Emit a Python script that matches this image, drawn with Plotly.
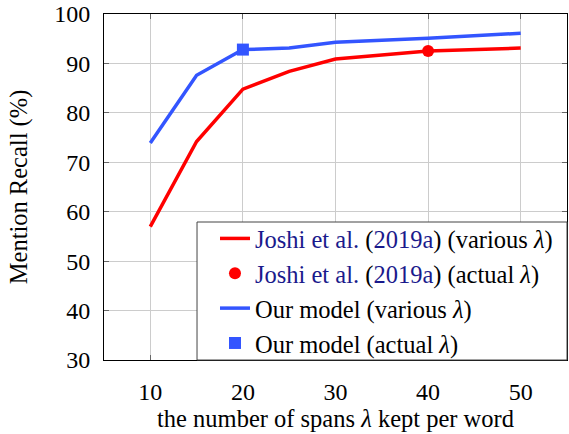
import plotly.graph_objects as go

x_vals = [10, 15, 20, 25, 30, 40, 50]
joshi_various = [57.0, 74.2, 84.8, 88.4, 90.9, 92.5, 93.1]
ours_various = [73.9, 87.6, 92.8, 93.1, 94.3, 95.1, 96.1]
joshi_actual_x = [40]
joshi_actual_y = [92.5]
ours_actual_x = [20]
ours_actual_y = [92.8]

cite = "<span style='color:#1a1a8c'>Joshi et al.</span> (<span style='color:#1a1a8c'>2019a</span>)"

fig = go.Figure()
fig.add_trace(go.Scatter(x=x_vals, y=joshi_various, mode="lines",
                         line=dict(color="#ff0000", width=3.5),
                         name=cite + " (various <i>λ</i>)"))
fig.add_trace(go.Scatter(x=joshi_actual_x, y=joshi_actual_y, mode="markers",
                         marker=dict(color="#ff0000", size=12, symbol="circle"),
                         name=cite + " (actual <i>λ</i>)"))
fig.add_trace(go.Scatter(x=x_vals, y=ours_various, mode="lines",
                         line=dict(color="#3355ff", width=3.5),
                         name="Our model (various <i>λ</i>)"))
fig.add_trace(go.Scatter(x=ours_actual_x, y=ours_actual_y, mode="markers",
                         marker=dict(color="#3355ff", size=12, symbol="square"),
                         name="Our model (actual <i>λ</i>)"))

font = "Liberation Serif"
fig.update_layout(
    width=569, height=434,
    margin=dict(l=104, r=2, t=14, b=74, autoexpand=False),
    plot_bgcolor="white", paper_bgcolor="white",
    font=dict(family=font, size=24, color="black"),
    legend=dict(x=0.2397, y=0.4162, xanchor="left", yanchor="top",
                borderwidth=0, bgcolor="rgba(0,0,0,0)",
                font=dict(size=24.5, family=font, color="black"),
                tracegroupgap=0),
    shapes=[dict(type="rect", xref="paper", yref="paper",
                 x0=0.2009, x1=1, y0=0, y1=0.3988,
                 line=dict(color="#444", width=1), fillcolor="white",
                 layer="above")],
)
fig.update_xaxes(range=[5, 55], tickvals=[10, 20, 30, 40, 50],
                 tickfont=dict(family=font, size=24, color="black"),
                 showgrid=True, gridcolor="#cccccc", gridwidth=1,
                 showline=True, linecolor="black", linewidth=1, mirror="ticks",
                 ticks="inside", ticklen=5, tickcolor="#666",
                 ticklabelstandoff=10,
                 zeroline=False, automargin=False,
                 title=dict(text="the number of spans <i>λ</i> kept per word",
                            font=dict(size=24.5, family=font, color="black"), standoff=4))
fig.update_yaxes(range=[30, 100], tickvals=[30, 40, 50, 60, 70, 80, 90, 100],
                 tickfont=dict(family=font, size=24, color="black"),
                 showgrid=True, gridcolor="#cccccc", gridwidth=1,
                 showline=True, linecolor="black", linewidth=1, mirror="ticks",
                 ticks="inside", ticklen=5, tickcolor="#666",
                 ticklabelstandoff=8,
                 zeroline=False, automargin=False,
                 title=dict(text="Mention Recall (%)",
                            font=dict(size=24.5, family=font, color="black"), standoff=19))

fig.write_html("out.html", config={"displayModeBar": False},
               post_script="document.body.style.margin='0';")
